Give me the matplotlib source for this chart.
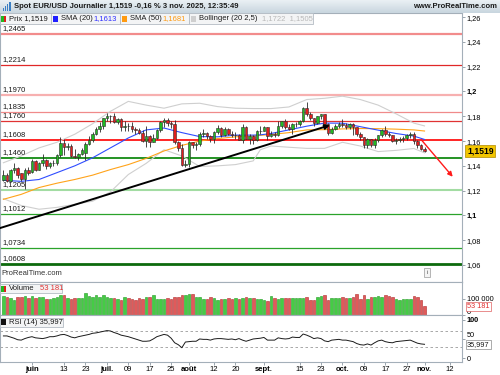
import numpy as np
import pandas as pd
import matplotlib
matplotlib.use('Agg')
import matplotlib.pyplot as plt
from matplotlib.patches import Rectangle

plt.rcParams['font.family'] = ['Liberation Sans', 'DejaVu Sans']
plt.rcParams['font.size'] = 5.5

# daily candles EUR/USD, 21 May -> 3 Nov 2025 (one row per week)
opens = [1.1285, 1.1330, 1.1280, 1.1365, 1.1385, 1.1340, 1.1290, 1.1370,
         1.1350, 1.1440, 1.1370, 1.1420, 1.1445,
         1.1395, 1.1420, 1.1425, 1.1485, 1.1585,
         1.1550, 1.1560, 1.1480, 1.1475, 1.1495,
         1.1500, 1.1580, 1.1610, 1.1660, 1.1700,
         1.1720, 1.1785, 1.1800, 1.1805, 1.1755,
         1.1775, 1.1710, 1.1725, 1.1720, 1.1700,
         1.1690, 1.1665, 1.1600, 1.1640, 1.1595,
         1.1625, 1.1690, 1.1755, 1.1770, 1.1745,
         1.1740, 1.1590, 1.1545, 1.1405, 1.1415,
         1.1590, 1.1570, 1.1575, 1.1660, 1.1665,
         1.1640, 1.1615, 1.1675, 1.1705, 1.1645,
         1.1700, 1.1660, 1.1645, 1.1650, 1.1610,
         1.1715, 1.1620, 1.1640, 1.1610, 1.1680,
         1.1685, 1.1710, 1.1640, 1.1660, 1.1645,
         1.1720, 1.1760, 1.1710, 1.1695, 1.1735,
         1.1737, 1.1760, 1.1865, 1.1815, 1.1785,
         1.1745, 1.1800, 1.1815, 1.1740, 1.1665,
         1.1700, 1.1725, 1.1735, 1.1730, 1.1715,
         1.1740, 1.1710, 1.1660, 1.1630, 1.1565,
         1.1615, 1.1570, 1.1605, 1.1645, 1.1690,
         1.1655, 1.1645, 1.1600, 1.1610, 1.1620,
         1.1625, 1.1645, 1.1655, 1.1600, 1.1565,
         1.1535]
highs = [1.1365, 1.1345, 1.1375, 1.1420, 1.1390, 1.1345, 1.1385, 1.1390,
         1.1455, 1.1445, 1.1435, 1.1495, 1.1455,
         1.1430, 1.1450, 1.1495, 1.1630, 1.1615,
         1.1585, 1.1575, 1.1535, 1.1500, 1.1540,
         1.1590, 1.1640, 1.1670, 1.1715, 1.1755,
         1.1790, 1.1830, 1.1810, 1.1830, 1.1790,
         1.1785, 1.1765, 1.1745, 1.1750, 1.1710,
         1.1705, 1.1690, 1.1720, 1.1645, 1.1655,
         1.1700, 1.1760, 1.1790, 1.1785, 1.1760,
         1.1770, 1.1600, 1.1575, 1.1445, 1.1600,
         1.1595, 1.1595, 1.1670, 1.1700, 1.1670,
         1.1645, 1.1680, 1.1730, 1.1715, 1.1715,
         1.1705, 1.1685, 1.1670, 1.1660, 1.1740,
         1.1720, 1.1655, 1.1645, 1.1690, 1.1720,
         1.1720, 1.1715, 1.1680, 1.1670, 1.1760,
         1.1765, 1.1780, 1.1740, 1.1745, 1.1755,
         1.1770, 1.1875, 1.1915, 1.1835, 1.1790,
         1.1800, 1.1820, 1.1820, 1.1745, 1.1710,
         1.1735, 1.1755, 1.1780, 1.1745, 1.1745,
         1.1745, 1.1715, 1.1670, 1.1635, 1.1625,
         1.1620, 1.1625, 1.1650, 1.1700, 1.1725,
         1.1670, 1.1650, 1.1625, 1.1630, 1.1640,
         1.1655, 1.1670, 1.1670, 1.1610, 1.1580,
         1.1550]
lows = [1.1275, 1.1270, 1.1270, 1.1340, 1.1300, 1.1280, 1.1210, 1.1325,
        1.1345, 1.1360, 1.1365, 1.1400, 1.1375,
        1.1385, 1.1400, 1.1410, 1.1470, 1.1490,
        1.1530, 1.1475, 1.1460, 1.1445, 1.1490,
        1.1450, 1.1570, 1.1590, 1.1650, 1.1675,
        1.1700, 1.1760, 1.1745, 1.1745, 1.1740,
        1.1680, 1.1685, 1.1680, 1.1675, 1.1660,
        1.1655, 1.1595, 1.1555, 1.1555, 1.1590,
        1.1615, 1.1675, 1.1715, 1.1725, 1.1705,
        1.1580, 1.1520, 1.1400, 1.1390, 1.1390,
        1.1540, 1.1530, 1.1560, 1.1630, 1.1615,
        1.1590, 1.1585, 1.1660, 1.1630, 1.1640,
        1.1645, 1.1635, 1.1620, 1.1605, 1.1585,
        1.1615, 1.1575, 1.1575, 1.1600, 1.1660,
        1.1680, 1.1610, 1.1630, 1.1630, 1.1640,
        1.1705, 1.1700, 1.1690, 1.1660, 1.1715,
        1.1720, 1.1755, 1.1800, 1.1770, 1.1725,
        1.1735, 1.1780, 1.1735, 1.1645, 1.1655,
        1.1690, 1.1705, 1.1715, 1.1695, 1.1700,
        1.1650, 1.1640, 1.1610, 1.1540, 1.1545,
        1.1555, 1.1540, 1.1590, 1.1635, 1.1640,
        1.1630, 1.1590, 1.1575, 1.1590, 1.1590,
        1.1610, 1.1625, 1.1580, 1.1545, 1.1525,
        1.1510]
closes = [1.1330, 1.1280, 1.1365, 1.1385, 1.1325, 1.1290, 1.1370, 1.1345,
          1.1440, 1.1370, 1.1420, 1.1445, 1.1395,
          1.1420, 1.1425, 1.1485, 1.1585, 1.1550,
          1.1560, 1.1480, 1.1475, 1.1495, 1.1525,
          1.1580, 1.1610, 1.1660, 1.1700, 1.1720,
          1.1785, 1.1800, 1.1805, 1.1755, 1.1775,
          1.1710, 1.1725, 1.1720, 1.1700, 1.1690,
          1.1665, 1.1600, 1.1640, 1.1595, 1.1625,
          1.1690, 1.1755, 1.1770, 1.1745, 1.1740,
          1.1590, 1.1545, 1.1405, 1.1415, 1.1590,
          1.1570, 1.1575, 1.1660, 1.1665, 1.1640,
          1.1615, 1.1675, 1.1705, 1.1645, 1.1700,
          1.1660, 1.1645, 1.1650, 1.1610, 1.1715,
          1.1620, 1.1640, 1.1610, 1.1680, 1.1685,
          1.1710, 1.1640, 1.1660, 1.1645, 1.1720,
          1.1760, 1.1710, 1.1695, 1.1735, 1.1737,
          1.1760, 1.1865, 1.1815, 1.1785, 1.1745,
          1.1800, 1.1815, 1.1740, 1.1665, 1.1700,
          1.1725, 1.1735, 1.1730, 1.1715, 1.1740,
          1.1710, 1.1660, 1.1630, 1.1565, 1.1615,
          1.1570, 1.1605, 1.1645, 1.1690, 1.1655,
          1.1645, 1.1600, 1.1610, 1.1620, 1.1625,
          1.1645, 1.1655, 1.1600, 1.1565, 1.1535,
          1.1519]

# volume in thousands
volumes_k = [120, 112, 108, 95, 110, 114, 119, 104, 118, 104,
             112, 115, 100, 102, 108, 110, 125, 123, 104, 102,
             108, 104, 105, 136, 117, 115, 123, 110, 126, 110,
             105, 104, 98, 94, 112, 104, 98, 92, 108, 98,
             112, 112, 126, 98, 102, 102, 108, 102, 112, 112,
             124, 124, 130, 130, 112, 112, 98, 102, 112, 108,
             92, 98, 98, 104, 98, 108, 100, 106, 110, 104,
             108, 98, 98, 92, 90, 119, 104, 98, 104, 104,
             104, 108, 104, 104, 104, 112, 94, 94, 115, 119,
             123, 92, 108, 104, 104, 115, 104, 104, 112, 129,
             98, 123, 98, 112, 112, 119, 112, 126, 119, 112,
             98, 92, 98, 102, 98, 119, 115, 94, 53.181]

rsi = [58, 58, 55, 52, 48, 47, 51, 54, 56, 53,
       52, 51, 53, 56, 56, 58, 61, 62, 59, 55,
       53, 56, 58, 60, 62, 65, 66, 68, 70, 72,
       71, 67, 64, 60, 58, 56, 53, 50, 47, 44,
       44, 45, 50, 56, 59, 62, 60, 52, 40, 35,
       27, 42, 43, 44, 44, 50, 49, 49, 47, 50,
       51, 51, 50, 49, 50, 48, 51, 47, 44, 47,
       50, 51, 52, 54, 47, 47, 47, 53, 51, 50,
       51, 55, 54, 54, 63, 60, 56, 51, 53, 51,
       45, 43, 47, 48, 49, 47, 47, 45, 43, 38,
       35, 34, 37, 34, 40, 45, 47, 43, 41, 40,
       43, 44, 45, 46, 47, 43, 39, 37, 35.997]

# indicator lines at these candle positions
ind_pos = [0, 5, 10, 15, 20, 25, 30, 35, 40, 45, 50, 55, 60, 65, 70, 72,
           75, 80, 85, 90, 95, 100, 105, 110, 115, 118]
sma20 = [1.1283, 1.1275, 1.1290, 1.1345, 1.1400, 1.1465, 1.1545, 1.1625,
         1.1690, 1.1705, 1.1668, 1.1636, 1.1634, 1.1648, 1.1648, 1.1650,
         1.1661, 1.1690, 1.1720, 1.1745, 1.1744, 1.1716, 1.1688, 1.1661,
         1.1640, 1.1613]
sma50 = [1.1130, 1.1170, 1.1225, 1.1260, 1.1290, 1.1325, 1.1370, 1.1410,
         1.1460, 1.1520, 1.1565, 1.1600, 1.1620, 1.1634, 1.1643, 1.1646,
         1.1653, 1.1668, 1.1690, 1.1692, 1.1698, 1.1701, 1.1700, 1.1696,
         1.1690, 1.1681]
bb_up = [1.1425, 1.1480, 1.1545, 1.1590, 1.1655, 1.1740, 1.1840, 1.1920,
         1.1890, 1.1865, 1.1900, 1.1905, 1.1878, 1.1865, 1.1862, 1.1862,
         1.1862, 1.1875, 1.1935, 1.1945, 1.1962, 1.1935, 1.1890, 1.1820,
         1.1745, 1.1722]
bb_low = [1.1135, 1.1080, 1.1050, 1.1065, 1.1090, 1.1115, 1.1190, 1.1330,
          1.1420, 1.1530, 1.1480, 1.1395, 1.1400, 1.1410, 1.1440, 1.1530,
          1.1560, 1.1550, 1.1541, 1.1541, 1.1590, 1.1560, 1.1515, 1.1525,
          1.1540, 1.1505]

# support / resistance levels
levels = [1.2465, 1.2214, 1.1970, 1.1835, 1.1760, 1.1608, 1.1460, 1.1205,
          1.1012, 1.0734, 1.0608]
level_labels = ['1,2465', '1,2214', '1,1970', '1,1835', '1,1760', '1,1608',
                '1,1460', '1,1205', '1,1012', '1,0734', '1,0608']

# trend line (start, end) and projection arrow, in (candle, price)
trend_start = (-0.95, 1.0898)
trend_end = (91.5, 1.1728)
proj_start = (117.2, 1.1607)
proj_end = (125.9, 1.1312)

tick_dates = ['2025-06-02', '2025-06-13', '2025-06-23', '2025-07-01', '2025-07-09',
              '2025-07-17', '2025-07-25', '2025-08-01', '2025-08-12', '2025-08-20',
              '2025-09-01', '2025-09-15', '2025-09-23', '2025-10-01', '2025-10-09',
              '2025-10-17', '2025-10-27', '2025-11-03', '2025-11-12']
tick_labels = ['juin', '13', '23', 'juil.', '09', '17', '25', 'août', '12', '20',
               'sept.', '15', '23', 'oct.', '09', '17', '27', 'nov.', '12']

price_ticks = [1.06, 1.08, 1.10, 1.12, 1.14, 1.16, 1.18, 1.20, 1.22, 1.24, 1.26]
price_tick_labels = ['1,06', '1,08', '1,1', '1,12', '1,14', '1,16', '1,18', '1,2',
                     '1,22', '1,24', '1,26']

# ---------------------------------------------------------------
W, H = 500, 375


def P(x, y):
    # pixel (from top-left) -> figure fraction
    return x / W, 1 - y / H


fig = plt.figure(figsize=(5, 3.75), dpi=100)
fig.patch.set_facecolor('white')

RX = 462
ax = fig.add_axes([0, P(0, 282)[1], RX / W, 269 / H])
axv = fig.add_axes([0, P(0, 315)[1], RX / W, 33 / H], sharex=ax)
axr = fig.add_axes([0, P(0, 362)[1], RX / W, 47 / H], sharex=ax)

o = np.array(opens)
h = np.array(highs)
l = np.array(lows)
c = np.array(closes)
x = np.arange(len(c))
up = c >= o

edge = '#2a2a2a'
ax.vlines(x, l, h, color=edge, lw=0.6, zorder=4)
ax.bar(x, np.maximum(np.abs(c - o), 0.0003), bottom=np.minimum(o, c), width=0.72,
       color=np.where(up, '#22b822', '#e01f1f'), edgecolor=edge, lw=0.4, zorder=5)

# indicators
ax.plot(ind_pos, bb_up, color='#cfcfcf', lw=0.8, zorder=2)
ax.plot(ind_pos, bb_low, color='#cfcfcf', lw=0.8, zorder=2)
ax.plot(ind_pos, sma50, color='#ffa31a', lw=0.8, zorder=3)
ax.plot(ind_pos, sma20, color='#2f4dff', lw=0.8, zorder=3)

# horizontal levels
level_colors = ['#f28c8c', '#e02828', '#f7b0b0', '#f08a8a', '#e03333', '#ff1414',
                '#138a13', '#a3dca3', '#2ba32b', '#2ba32b', '#0d6a0d']
level_widths = [1.6, 0.9, 1.6, 0.9, 0.9, 1.3, 1.3, 1.5, 0.9, 0.9, 2.0]
for lvl, lab, col, lw in zip(levels, level_labels, level_colors, level_widths):
    ax.axhline(lvl, color=col, lw=lw, zorder=1)
    ax.annotate(lab, xy=(0, lvl), xycoords=('axes fraction', 'data'),
                xytext=(2, 2), textcoords='offset pixels', va='bottom', ha='left',
                fontsize=5.5, color='#1a1a1a', zorder=2)

# trend line and projection
ax.annotate('', xy=trend_end, xytext=trend_start,
            arrowprops=dict(arrowstyle='-|>', color='black', lw=1.4, mutation_scale=7,
                            shrinkA=0, shrinkB=0), zorder=6)
ax.annotate('', xy=proj_end, xytext=proj_start,
            arrowprops=dict(arrowstyle='-|>', color='#ff1a1a', lw=1.0, mutation_scale=7,
                            shrinkA=0, shrinkB=0), zorder=6)

ax.set_xlim(-0.95, 128.5)
ax.set_ylim(1.0463, 1.2633)
ax.yaxis.tick_right()
ax.set_yticks(price_ticks)
ax.set_yticklabels(price_tick_labels)
for t in ax.get_yticklabels():
    if t.get_text() in ('1,1', '1,2'):
        t.set_fontweight('bold')
ax.tick_params(axis='y', direction='out', length=2, width=0.6, pad=1.5,
               labelsize=5.3, color='#8a96a0')
ax.tick_params(axis='x', bottom=False, labelbottom=False)

# last price tag
ax.annotate('1,1519', xy=(1, c[-1]), xycoords=('axes fraction', 'data'),
            xytext=(5, 0), textcoords='offset pixels', va='center', ha='left',
            fontsize=6.2, fontweight='bold', annotation_clip=False,
            bbox=dict(boxstyle='square,pad=0.2', fc='#f2c500', ec='#b08a00', lw=0.5))

ax.text(0.004, 0.02, 'ProRealTime.com', transform=ax.transAxes, fontsize=5.5,
        color='#333333', va='bottom', ha='left')
ax.add_patch(Rectangle((0.917, 0.02), 0.014, 0.032, transform=ax.transAxes,
                       fc='#f4f4f4', ec='#9a9a9a', lw=0.5))
ax.text(0.924, 0.036, 'i', transform=ax.transAxes, fontsize=4.5, ha='center',
        va='center', color='#555555')

# volume
vol_col = np.where(up, '#45cc45', '#e05a5a')
vol_edge = np.where(up, '#1f9a1f', '#b02a2a')
axv.bar(x, volumes_k, width=0.72, color=vol_col, edgecolor=vol_edge, lw=0.4)
axv.set_ylim(0, 206)
axv.yaxis.tick_right()
axv.set_yticks([0, 100])
axv.set_yticklabels(['', '100 000'])
axv.tick_params(axis='y', direction='out', length=2, width=0.6, pad=1.5,
                labelsize=5.3, color='#8a96a0')
axv.tick_params(axis='x', bottom=False, labelbottom=False)
axv.annotate('0', xy=(1, 0), xycoords=('axes fraction', 'data'),
             xytext=(5, 3), textcoords='offset pixels', va='center', ha='left',
             fontsize=5.3, annotation_clip=False)
axv.annotate('53 181', xy=(1, volumes_k[-1]), xycoords=('axes fraction', 'data'),
             xytext=(5, 0), textcoords='offset pixels', va='center', ha='left',
             fontsize=5.3, color='#e03030', annotation_clip=False,
             bbox=dict(boxstyle='square,pad=0.15', fc='white', ec='#e06060', lw=0.5))

# RSI
axr.axhline(70, color='#9a9a9a', lw=0.6, ls=(0, (3, 3)))
axr.axhline(30, color='#9a9a9a', lw=0.6, ls=(0, (3, 3)))
axr.plot(x, rsi, color='#1a1a1a', lw=0.7)
axr.set_ylim(-10.5, 113)
axr.yaxis.tick_right()
axr.set_yticks([0, 50, 100])
axr.set_yticklabels(['0', '', '100'])
axr.get_yticklabels()[2].set_fontweight('bold')
axr.tick_params(axis='y', direction='out', length=2, width=0.6, pad=1.5,
                labelsize=5.3, color='#8a96a0')
axr.annotate('50', xy=(1, 50), xycoords=('axes fraction', 'data'),
             xytext=(5, 3), textcoords='offset pixels', va='center', ha='left',
             fontsize=5.3, annotation_clip=False)
axr.annotate('35,997', xy=(1, rsi[-1]), xycoords=('axes fraction', 'data'),
             xytext=(5, 0), textcoords='offset pixels', va='center', ha='left',
             fontsize=5.3, color='#1a1a1a', annotation_clip=False,
             bbox=dict(boxstyle='square,pad=0.15', fc='white', ec='#8a8a8a', lw=0.5))

days = pd.bdate_range('2025-05-21', '2025-11-14')
tick_pos = days.get_indexer(pd.to_datetime(tick_dates))
axr.set_xticks(tick_pos)
axr.set_xticklabels(tick_labels)
for t in axr.get_xticklabels():
    if t.get_text()[0].isalpha():
        t.set_fontweight('bold')
axr.tick_params(axis='x', direction='out', length=2, width=0.6, pad=1,
                labelsize=5.5, color='#8a96a0')

for a in (ax, axv, axr):
    a.set_facecolor('white')
    for s in ('left', 'right', 'top', 'bottom'):
        a.spines[s].set_color('#a4afb9')
        a.spines[s].set_linewidth(0.8)

# header bar
hdr = fig.add_axes([0, P(0, 13)[1], 1, 13 / H])
grad = np.linspace(0, 1, 20).reshape(-1, 1)
hdr.imshow(grad, aspect='auto', cmap=matplotlib.colors.LinearSegmentedColormap.from_list(
    'hdr', ['#eaf0f4', '#c9d6df']), extent=(0, 1, 0, 1))
hdr.set_xlim(0, 1)
hdr.set_ylim(0, 1)
hdr.axis('off')
for i, hh in enumerate([3, 5, 7, 9]):
    fig.add_artist(Rectangle(P(2.5 + i * 2.2, 11), 1.4 / W, hh / H, transform=fig.transFigure,
                             fc='#3b7fc4', ec='none'))
fig.text(*P(14, 6.8), 'Spot EUR/USD Journalier 1,1519 -0,16 % 3 nov. 2025, 12:35:49',
         fontsize=5.5, fontweight='bold', va='center', ha='left', color='#1a1a1a')
fig.text(*P(497, 6.8), 'www.ProRealTime.com', fontsize=5.5, fontweight='bold',
         va='center', ha='right', color='#1a1a1a')


def legend_box(x0, x1, y0, y1):
    fig.add_artist(Rectangle(P(x0, y1), (x1 - x0) / W, (y1 - y0) / H,
                             transform=fig.transFigure, fc='#f3f4f5', ec='#b4bcc4', lw=0.6,
                             zorder=10))


def icon(x0, y, cols):
    n = len(cols)
    for k, col in enumerate(cols):
        fig.add_artist(Rectangle(P(x0 + k * 5 / n, y + 3), 5 / n / W, 6 / H,
                                 transform=fig.transFigure, fc=col, ec='none', zorder=11))


def ftext(px, py, s, **kw):
    fig.text(*P(px, py), s, va='center', ha='left', fontsize=5.5, zorder=12, **kw)


# price panel legend
ly = 19
legend_box(0, 50.5, 13.5, 24)
icon(1, ly, ['#22b822', '#e01f1f'])
ftext(9, ly, 'Prix 1,1519', color='#1a1a1a')
legend_box(51, 119.5, 13.5, 24)
icon(53, ly, ['#1f1fff'])
ftext(61, ly, 'SMA (20)', color='#1a1a1a')
ftext(93, ly, '1,1613', color='#2f2fff')
legend_box(120, 188.5, 13.5, 24)
icon(122, ly, ['#ff9a10'])
ftext(130, ly, 'SMA (50)', color='#1a1a1a')
ftext(162, ly, '1,1681', color='#ff9a10')
legend_box(189, 313, 13.5, 24)
icon(191, ly, ['#cfcfcf'])
ftext(199, ly, 'Bollinger (20 2,5)', color='#1a1a1a')
ftext(262, ly, '1,1722  1,1505', color='#b8b8b8')

# volume legend
vy = 288.5
legend_box(0, 62, 284, 293)
icon(1, vy, ['#22b822', '#e01f1f'])
ftext(9, vy, 'Volume', color='#1a1a1a')
ftext(40, vy, '53 181', color='#e03030')

# RSI legend
ry = 322
legend_box(0, 62.5, 317.5, 327)
icon(1, ry, ['#111111'])
ftext(9, ry, 'RSI (14) 35,997', color='#1a1a1a')

fig.savefig('out.png', dpi=100)
